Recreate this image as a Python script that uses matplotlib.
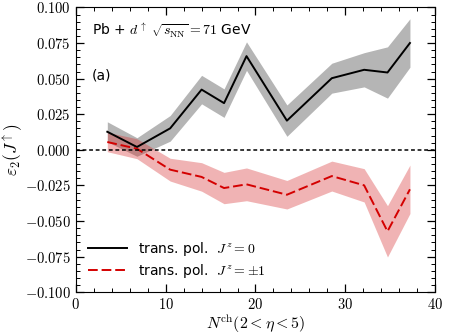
import matplotlib
matplotlib.use("Agg")
import matplotlib.pyplot as plt
from matplotlib.ticker import MultipleLocator, FuncFormatter
import numpy as np

plt.rcParams['mathtext.fontset'] = 'cm'
plt.rcParams['font.family'] = ['DejaVu Sans']

# data
nch = [3.5, 6.8, 10.5, 14.0, 16.5, 19.0, 23.5, 28.5, 32.1, 34.7, 37.2]
e2_j0 = [0.0127, 0.0020, 0.0151, 0.0423, 0.0328, 0.0658, 0.0205, 0.0503, 0.0562, 0.0543, 0.0750]
e2_j0_err = [0.0070, 0.0065, 0.0090, 0.0100, 0.0100, 0.0100, 0.0110, 0.0105, 0.0120, 0.0180, 0.0170]
e2_j1 = [0.0055, 0.0008, -0.0139, -0.0190, -0.0268, -0.0242, -0.0315, -0.0184, -0.0249, -0.0572, -0.0277]
e2_j1_err = [0.0068, 0.0070, 0.0080, 0.0100, 0.0110, 0.0115, 0.0100, 0.0105, 0.0117, 0.0180, 0.0170]
label_j0 = r"trans. pol.  $J^z=0$"
label_j1 = r"trans. pol.  $J^z=\pm1$"


def fmt_y(v, p):
    s = "%.3f" % (0.0 if abs(v) < 1e-9 else v)
    if s.startswith('-'):
        s = '{-}' + s[1:]
    return "$" + s + "$"


fig = plt.figure(figsize=(4.49, 3.36), dpi=100)
ax = fig.add_axes([0.169, 0.130, 0.800, 0.848])

x = np.array(nch)
y0 = np.array(e2_j0); s0 = np.array(e2_j0_err)
y1 = np.array(e2_j1); s1 = np.array(e2_j1_err)

ax.fill_between(x, y0 - s0, y0 + s0, color='gray', alpha=0.58, lw=0)
ax.fill_between(x, y1 - s1, y1 + s1, color='tab:red', alpha=0.35, lw=0)
ax.plot(x, y0, color='black', lw=1.4, label=label_j0)
ax.plot(x, y1, color='#d40000', lw=1.4, ls=(0, (5, 2)), label=label_j1)
ax.axhline(0, color='black', lw=1.1, ls=(0, (2.5, 1.8)))

ax.set_xlim(0, 40)
ax.set_ylim(-0.1, 0.1)
ax.xaxis.set_major_locator(MultipleLocator(10))
ax.xaxis.set_minor_locator(MultipleLocator(2))
ax.yaxis.set_major_locator(MultipleLocator(0.025))
ax.yaxis.set_minor_locator(MultipleLocator(0.005))
ax.xaxis.set_major_formatter(FuncFormatter(lambda v, p: r"$%d$" % round(v)))
ax.yaxis.set_major_formatter(FuncFormatter(fmt_y))
ax.tick_params(which='both', direction='in', top=True, right=True, labelsize=10.5)
ax.tick_params(which='major', length=6, width=0.9)
ax.tick_params(which='minor', length=3, width=0.7)

ax.set_xlabel(r"$N^{\rm ch}(2<\eta<5)$", fontsize=11.5, labelpad=1)
ax.set_ylabel(r"$\varepsilon_2(J^\uparrow)$", fontsize=12.5)
ax.yaxis.set_label_coords(-0.142, 0.5)

ax.text(1.8, 0.084, r"Pb + $d^{\uparrow}\ \sqrt{s_{\rm NN}}=71$ GeV", fontsize=10, va='center', ha='left')
ax.text(1.8, 0.0525, "(a)", fontsize=10, va='center', ha='left')

ax.legend(loc='lower left', frameon=False, fontsize=10, handlelength=2.8,
          borderaxespad=0.5, labelspacing=0.25)

fig.savefig("out.png", dpi=100)
